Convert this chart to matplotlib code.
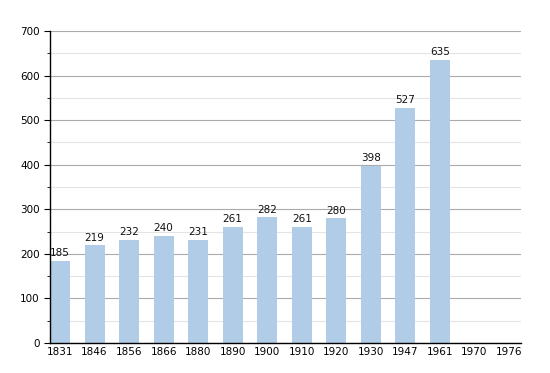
import numpy as np
import matplotlib.pyplot as plt
from matplotlib.ticker import MultipleLocator

years = ["1831", "1846", "1856", "1866", "1880", "1890", "1900",
         "1910", "1920", "1930", "1947", "1961", "1970", "1976"]
population = [185, 219, 232, 240, 231, 261, 282, 261, 280, 398, 527, 635, None, None]

fig = plt.figure(figsize=(5.5, 3.73), dpi=100)
ax = fig.add_axes([50/550, 30/373, 471/550, 312/373])

x = np.arange(len(years))
for xi, v in zip(x, population):
    if v is None:
        continue
    ax.bar(xi, v, width=0.58, color="#b0cce6", zorder=2)
    ax.text(xi, v + 6, str(v), ha="center", va="bottom", fontsize=7.5, color="#111111", zorder=3)

ax.set_xlim(-0.29, 13.35)
ax.set_ylim(0, 700)
ax.set_xticks(x)
ax.set_xticklabels(years, fontsize=7.5)
ax.yaxis.set_major_locator(MultipleLocator(100))
ax.yaxis.set_minor_locator(MultipleLocator(50))
ax.tick_params(axis="y", which="major", labelsize=7.5, length=4, direction="out")
ax.tick_params(axis="y", which="minor", length=2.5, direction="out")
ax.tick_params(axis="x", length=0, pad=3)

ax.grid(axis="y", which="major", color="#aaaaaa", linewidth=0.8, zorder=0)
ax.grid(axis="y", which="minor", color="#e4e4e4", linewidth=0.8, zorder=0)

for side in ["top", "right"]:
    ax.spines[side].set_visible(False)
ax.spines["left"].set_linewidth(1)
ax.spines["bottom"].set_linewidth(1)

fig.savefig("out.png", dpi=100)
